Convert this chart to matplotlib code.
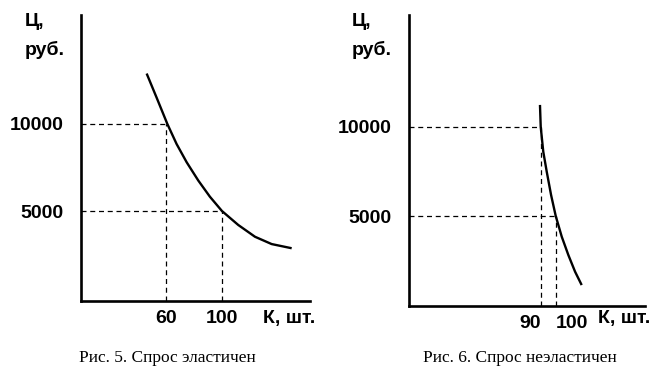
import matplotlib
matplotlib.use('Agg')
import matplotlib.pyplot as plt

q_elastic = [46.2, 53.4, 61, 67.6, 74.8, 83.1, 91.4, 100, 111.6, 123.6, 135.5, 149.8]
p_elastic = [12900, 11500, 10000, 8850, 7800, 6750, 5820, 5000, 4200, 3520, 3100, 2860]
marks_elastic = [(60, 10000), (100, 5000)]

# Рис. 6 - неэластичный спрос
q_inelastic = [89.5, 90, 91.7, 94, 96.9, 100, 104, 108.4, 112.9, 117.3]
p_inelastic = [11240, 10000, 8610, 7490, 6180, 5000, 3840, 2810, 1870, 1120]
marks_inelastic = [(90, 10000), (100, 5000)]

price_ticks = [5000, 10000]
price_labels = ['5000', '10000']

W, H = 669, 386
fig = plt.figure(figsize=(W / 100, H / 100), dpi=100)

bold = dict(family='Liberation Sans', fontweight='bold', fontsize=14)
serif = dict(family='Liberation Serif', fontsize=12.5)


def panel(px_left, px_right, px_top, px_bottom, xlim, ylim, q, p, marks, caption, cap_x, ylab_x):
    ax = fig.add_axes([px_left / W, 1 - px_bottom / H,
                       (px_right - px_left) / W, (px_bottom - px_top) / H])
    ax.plot(q, p, color='black', lw=1.7, solid_capstyle='butt', solid_joinstyle='round')
    for mq, mp in marks:
        ax.plot([xlim[0], mq], [mp, mp], color='black', lw=0.9, ls=(0, (4, 3)))
        ax.plot([mq, mq], [ylim[0], mp], color='black', lw=0.9, ls=(0, (4, 3)))
    ax.set_xlim(*xlim)
    ax.set_ylim(*ylim)
    for s in ('top', 'right'):
        ax.spines[s].set_visible(False)
    for s in ('left', 'bottom'):
        ax.spines[s].set_linewidth(1.9)
    ax.set_yticks(price_ticks)
    ax.set_yticklabels(price_labels, **bold)
    ax.set_xticks([m[0] for m in marks])
    ax.set_xticklabels([str(m[0]) for m in marks], **bold)
    ax.tick_params(length=0, pad=12.5, axis='y')
    ax.tick_params(length=0, pad=6.5, axis='x')
    fig.text(ylab_x / W, 1 - 21 / H, 'Ц,', ha='left', va='center', **bold)
    fig.text(ylab_x / W, 1 - 50 / H, 'руб.', ha='left', va='center', **bold)
    fig.text((px_right + 5) / W, 1 - 319 / H, 'К, шт.', ha='right', va='center', **bold)
    fig.text(cap_x / W, 1 - 358 / H, caption, ha='center', va='center', **serif)
    return ax


panel(81, 310, 15, 301, (-0.7, 162.9), (-172, 16264), q_elastic, p_elastic,
      marks_elastic, 'Рис. 5. Спрос эластичен', 167, 25)

ax2 = panel(409, 645, 15, 306, (2.2, 159.5), (-56, 16292), q_inelastic, p_inelastic,
            marks_inelastic, 'Рис. 6. Спрос неэластичен', 520, 352)
xl = ax2.get_xticklabels()
xl[0].set_ha('right')
xl[1].set_ha('left')

fig.savefig('out.png', dpi=100)
